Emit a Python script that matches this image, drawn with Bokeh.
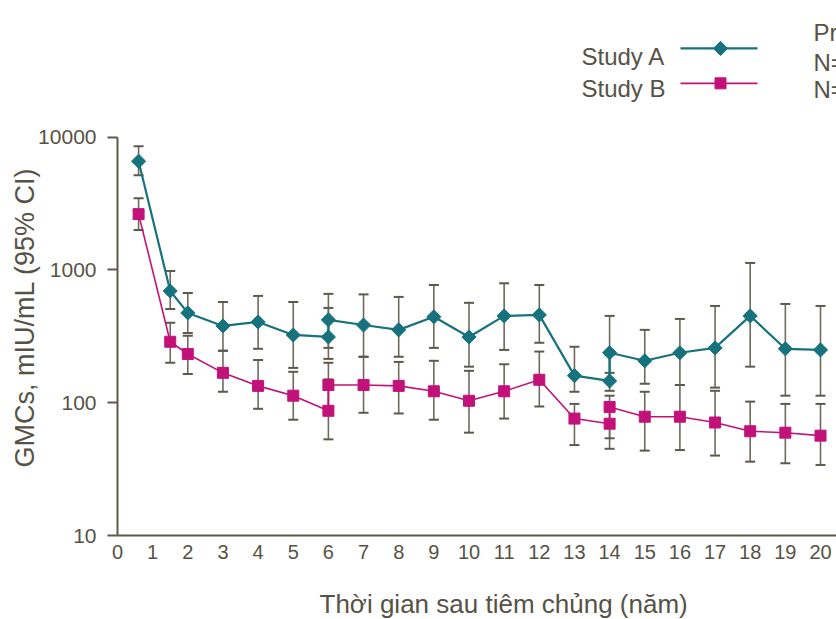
import numpy as np
from bokeh.plotting import figure
from bokeh.models import (Range1d, FixedTicker, NumeralTickFormatter, Whisker, TeeHead,
                          ColumnDataSource, Label, Title)
from bokeh.embed import file_html
from bokeh.resources import INLINE

# ---------------- data ----------------
years_a = [0.6, 1.5, 2, 3, 4, 5, 6, 6, 7, 8, 9, 10, 11, 12, 13, 14, 14, 15, 16, 17, 18, 19, 20]
gmc_a   = [6600, 695, 475, 379, 406, 324, 313, 421, 385, 354, 444, 313, 451, 459, 160, 146, 238, 207, 238, 259, 451, 255, 250]
upper_a = [8560, 982, 671, 574, 638, 574, 518, 661, 655, 627, 771, 566, 794, 771, 264, 230, 451, 354, 428, 536, 1130, 555, 536]
lower_a = [5180, 509, 336, 246, 255, 183, 214, 259, 222, 222, 259, 187, 250, 283, 121, 123, 168, 139, 136, 130, 187, 113, 113]

years_b = [0.6, 1.5, 2, 3, 4, 5, 6, 6, 7, 8, 9, 10, 11, 12, 13, 14, 14, 15, 16, 17, 18, 19, 20]
gmc_b   = [2635, 288, 233, 168, 134, 113, 87, 136, 136, 134, 122, 103.5, 122, 149, 76, 69.5, 93, 78.5, 78.5, 71, 61, 59.5, 56.5]
upper_b = [3475, 400, 319, 246, 210, 171, 150, 200, 222, 203, 207, 174, 195, 243, 98, 90, 113, 121, 136, 123, 102, 98, 98]
lower_b = [2000, 200, 165, 121, 90, 74.5, 53, 92, 84, 83, 74.5, 59.5, 76, 93.7, 48, 45, 54, 43.6, 44, 40, 36, 35, 34]

x_ticks = list(range(0, 21))
y_ticks = [10, 100, 1000, 10000]
series_names = ["Study A", "Study B"]
side_texts = ["Pr", "N=", "N="]
x_title = "Thời gian sau tiêm chủng (năm)"
y_title = "GMCs, mIU/mL (95% CI)"

# ---------------- layout ----------------
W, H = 836, 619
LEFT, BOTTOM_PX = 117, 536          # frame left edge, pixel row of y=10
PX_PER_YEAR = 35.15
PX_PER_DECADE = 133.0
Y10000_PX = 137

def xd(px):
    return (px - LEFT) / PX_PER_YEAR

def yd(py):
    return 10 ** (4 - (py - Y10000_PX) / PX_PER_DECADE)

TEAL = "#16727d"
MAG = "#c2127a"
TXT = "#575246"
AXC = "#5e594d"
BAR = "#6f6a5d"
FONT = "Liberation Sans"

p = figure(width=W, height=H, output_backend="svg", toolbar_location=None,
           y_axis_type="log",
           x_range=Range1d(0, xd(W)), y_range=Range1d(10, yd(0)),
           min_border_left=LEFT, min_border_right=0, min_border_top=0,
           min_border_bottom=H - BOTTOM_PX)
p.outline_line_color = None
p.grid.visible = False
p.background_fill_color = "white"
p.border_fill_color = "white"

# x axis
xa = p.xaxis[0]
xa.ticker = FixedTicker(ticks=x_ticks)
xa.major_tick_line_color = None
xa.major_tick_out = 0
xa.major_tick_in = 0
xa.minor_tick_line_color = None
xa.axis_line_color = AXC
xa.axis_line_width = 2
xa.major_label_text_font = FONT
xa.major_label_text_font_size = "20px"
xa.major_label_text_color = TXT
xa.major_label_standoff = 9
# blank spacer label: reserves room so the title below sits near the bottom edge
xa.axis_label = " "
xa.axis_label_text_font_size = "10px"
xa.axis_label_standoff = 10

# y axis
ya = p.yaxis[0]
ya.ticker = FixedTicker(ticks=y_ticks)
ya.formatter = NumeralTickFormatter(format="0")
ya.bounds = (10, 10000)
ya.minor_tick_line_color = None
ya.major_tick_out = 10
ya.major_tick_in = 0
ya.major_tick_line_color = AXC
ya.major_tick_line_width = 2
ya.axis_line_color = AXC
ya.axis_line_width = 2
ya.major_label_text_font = FONT
ya.major_label_text_font_size = "21px"
ya.major_label_text_color = TXT
ya.major_label_standoff = 11

src_a = ColumnDataSource(dict(x=years_a, y=gmc_a, up=upper_a, lo=lower_a))
src_b = ColumnDataSource(dict(x=years_b, y=gmc_b, up=upper_b, lo=lower_b))

for src in (src_a, src_b):
    w = Whisker(source=src, base="x", upper="up", lower="lo",
                line_color=BAR, line_width=1.6,
                upper_head=TeeHead(size=10, line_color=AXC, line_width=2),
                lower_head=TeeHead(size=10, line_color=AXC, line_width=2))
    p.add_layout(w)

p.line("x", "y", source=src_b, line_color=MAG, line_width=1.6)
p.line("x", "y", source=src_a, line_color=TEAL, line_width=2.2)
p.scatter("x", "y", source=src_b, marker="square", size=11, fill_color=MAG, line_color=MAG)
p.scatter("x", "y", source=src_a, marker="square", angle=np.pi / 4, size=10,
          fill_color=TEAL, line_color=TEAL)

# legend (label on the left of the sample, as in the reference)
leg_rows = [(48, TEAL, "square", np.pi / 4, 10, 2.2, 56), (83, MAG, "square", 0, 11, 1.6, 88)]
for (row_px, col, mk, ang, sz, lw, base_px), name in zip(leg_rows, series_names):
    p.line([xd(680), xd(757)], [yd(row_px), yd(row_px)], line_color=col, line_width=lw)
    p.scatter([xd(720)], [yd(row_px)], marker=mk, angle=ang, size=sz, fill_color=col, line_color=col)
    p.add_layout(Label(x=xd(665), y=yd(base_px), text=name, text_align="right",
                       text_baseline="alphabetic", text_font=FONT, text_font_size="24px",
                       text_color=TXT))

for t, base_px in zip(side_texts, [32, 62, 89]):
    p.add_layout(Label(x=xd(813), y=yd(base_px), text=t, text_align="left",
                       text_baseline="alphabetic", text_font=FONT, text_font_size="24px",
                       text_color=TXT))

# axis titles (side titles, drawn outside the plotting frame)
p.add_layout(Title(text=x_title, align="left", offset=202, standoff=2,
                   text_font=FONT, text_font_size="26px", text_font_style="normal",
                   text_color=TXT), "below")
p.add_layout(Title(text=y_title, align="left", offset=68, standoff=-8,
                   text_font=FONT, text_font_size="27px", text_font_style="normal",
                   text_color=TXT), "left")

open("out.html", "w").write(file_html(p, INLINE))
